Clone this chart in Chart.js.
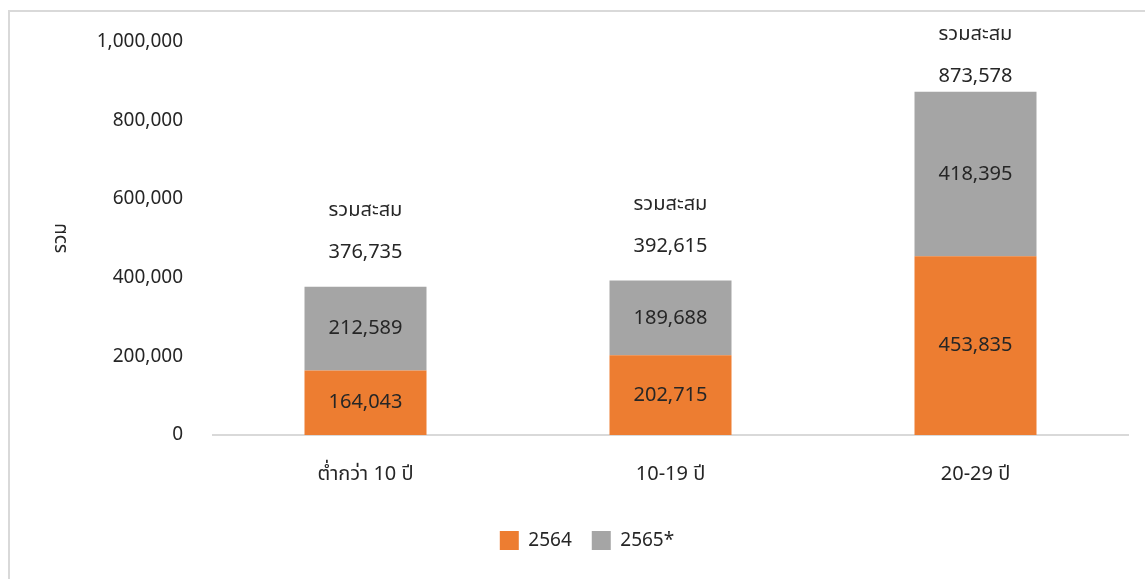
<!DOCTYPE html>
<html>
<head>
<meta charset="utf-8">
<script src="https://cdn.jsdelivr.net/npm/chart.js@4"></script>
<style>
    html, body { margin: 0; padding: 0; background: #fff; overflow: hidden; }
    .frame {
        position: absolute; left: 8px; top: 10px;
        width: 1160px; height: 600px;
        border: 2px solid #d9d9d9; box-sizing: border-box;
    }
    .wrap { position: absolute; left: 0; top: 0; width: 1145px; height: 579px; }
</style>
</head>
<body>
<div class="frame"></div>
<div class="wrap"><canvas id="chart"></canvas></div>
<script>
// ===================== DATA =====================
const categories = ['ต่ำกว่า 10 ปี', '10-19 ปี', '20-29 ปี'];
const seriesNames = ['2564', '2565*'];
const values2564 = [164043, 202715, 453835];
const values2565 = [212589, 189688, 418395];
const totals = [376735, 392615, 873578];
const yTicks = [0, 200000, 400000, 600000, 800000, 1000000];
const totalLabel = 'รวมสะสม';
const yTitle = 'รวม';

const FONT = "'Noto Sans', 'Noto Sans Thai', Tahoma, sans-serif";
const TEXT = '#262626';
// gap between stack top and the total number (px), per category
const totalGap = [34, 34, 15];

const fmt = v => v.toLocaleString('en-US');

// ===================== LABEL PLUGIN =====================
const barLabels = {
    id: 'barLabels',
    afterLayout(chart) {
        // legend sits a bit right of centre in the original
        chart.legend.left += 23;
        chart.legend.right += 23;
    },
    afterDatasetsDraw(chart) {
        const ctx = chart.ctx;
        ctx.save();
        ctx.fillStyle = TEXT;
        ctx.textAlign = 'center';
        ctx.textBaseline = 'middle';
        ctx.font = '20px ' + FONT;
        chart.data.datasets.forEach((ds, di) => {
            chart.getDatasetMeta(di).data.forEach((bar, i) => {
                const mid = (bar.y + bar.base) / 2;
                ctx.fillText(fmt(ds.data[i]), bar.x, mid);
            });
        });
        // totals above each stack
        const topMeta = chart.getDatasetMeta(chart.data.datasets.length - 1);
        topMeta.data.forEach((bar, i) => {
            const y = bar.y - totalGap[i];
            ctx.fillText(fmt(totals[i]), bar.x, y);
            ctx.fillText(totalLabel, bar.x, y - 42);
        });
        ctx.restore();
    }
};

// ===================== CHART =====================
const ctx = document.getElementById('chart').getContext('2d');
new Chart(ctx, {
    type: 'bar',
    data: {
        labels: categories,
        datasets: [
            { label: seriesNames[0], data: values2564, backgroundColor: '#ed7d31' },
            { label: seriesNames[1], data: values2565, backgroundColor: '#a5a5a5' }
        ]
    },
    options: {
        responsive: true,
        maintainAspectRatio: false,
        animation: false,
        categoryPercentage: 1,
        barPercentage: 0.4,
        layout: { padding: { top: 41, right: 17, bottom: 19, left: 0 } },
        plugins: {
            legend: {
                position: 'bottom',
                labels: {
                    color: TEXT,
                    font: { family: FONT, size: 19 },
                    boxWidth: 19,
                    boxHeight: 19,
                    padding: 20
                }
            },
            tooltip: { enabled: false }
        },
        scales: {
            x: {
                stacked: true,
                grid: { display: false, drawTicks: false },
                border: { color: '#d9d9d9', width: 2 },
                ticks: { color: TEXT, font: { family: FONT, size: 20 }, padding: 27 },
                afterFit: s => { s.height = 76; }
            },
            y: {
                stacked: true,
                min: 0,
                max: 1000000,
                afterBuildTicks: s => { s.ticks = yTicks.map(v => ({ value: v })); },
                grid: { display: false, drawTicks: false },
                border: { display: false },
                ticks: {
                    color: TEXT,
                    font: { family: FONT, size: 19 },
                    padding: 30,
                    callback: v => fmt(v)
                },
                title: {
                    display: true,
                    text: yTitle,
                    color: TEXT,
                    font: { family: FONT, size: 19 },
                    padding: { top: 49, bottom: 0 }
                },
                afterFit: s => { s.width = 213; }
            }
        }
    },
    plugins: [barLabels]
});
</script>
</body>
</html>
